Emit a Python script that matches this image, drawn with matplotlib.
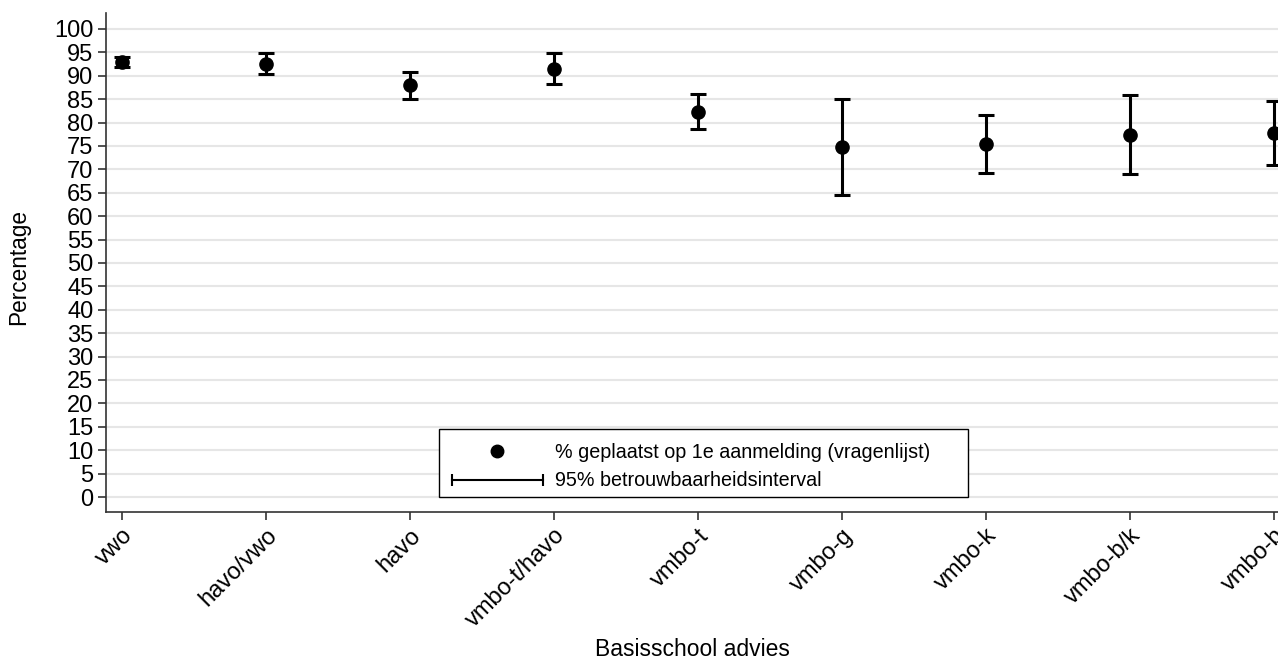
import matplotlib
matplotlib.use("Agg")
import matplotlib.pyplot as plt
from matplotlib.lines import Line2D
from matplotlib.patches import Rectangle
from matplotlib.legend_handler import HandlerLine2D

plt.rcParams['font.family'] = ['Liberation Sans', 'DejaVu Sans']

categories = ["vwo", "havo/vwo", "havo", "vmbo-t/havo", "vmbo-t", "vmbo-g",
              "vmbo-k", "vmbo-b/k", "vmbo-b"]
pct = [92.9, 92.5, 88.0, 91.5, 82.3, 74.7, 75.4, 77.4, 77.7]
ci_low = [91.9, 90.4, 85.1, 88.2, 78.6, 64.5, 69.2, 69.0, 71.0]
ci_high = [94.0, 94.8, 90.8, 94.8, 86.0, 85.0, 81.6, 85.8, 84.6]
yticks = list(range(0, 101, 5))

W, H = 1278, 662
fig = plt.figure(figsize=(W/100, H/100), dpi=100)
ax = fig.add_axes([106/W, 1-512/H, 1-106/W, (512-13)/H])

x = list(range(len(categories)))
yerr = [[p - l for p, l in zip(pct, ci_low)], [h - p for p, h in zip(pct, ci_high)]]
ax.errorbar(x, pct, yerr=yerr, fmt='none', ecolor='black', elinewidth=2.2,
            capsize=6, capthick=2.2, zorder=3)
ax.plot(x, pct, 'o', color='black', markersize=9.5, zorder=4)

ax.set_xlim(-0.111, 8.03)
ax.set_ylim(-3.2, 103.4)
ax.set_yticks(yticks)
ax.set_yticklabels([str(t) for t in yticks], fontsize=17)
ax.set_xticks(x)
ax.set_xticklabels(categories, rotation=45, ha='right', va='top', fontsize=17,
                   rotation_mode='anchor')
ax.grid(axis='y', color='#e6e6e6', linewidth=1.5, zorder=0)
ax.set_axisbelow(True)
for s in ['top', 'right']:
    ax.spines[s].set_visible(False)
for s in ['left', 'bottom']:
    ax.spines[s].set_color('#333333')
    ax.spines[s].set_linewidth(1.2)
ax.tick_params(axis='both', length=6, width=1.2, color='#333333', pad=3)

ax.set_ylabel("Percentage", fontsize=16.3)
ax.yaxis.set_label_coords(-0.0648, 0.49)
fig.text(692/W, 1-650/H, "Basisschool advies", ha='center', va='center', fontsize=16.5)

# legend box
box = Rectangle((439/W, 1-497/H), (968-439)/W, (497-429)/H, transform=fig.transFigure,
                facecolor='white', edgecolor='black', linewidth=1.0, zorder=4.5,
                clip_on=False)
ax.add_artist(box)

h1 = Line2D([], [], marker='o', color='black', linestyle='none', markersize=9)
h2 = Line2D([], [], color='black', linewidth=1.5, marker='|', markersize=9,
            markeredgewidth=1.5)
leg = ax.legend([h1, h2], ["% geplaatst op 1e aanmelding (vragenlijst)",
                           "95% betrouwbaarheidsinterval"],
                handler_map={h2: HandlerLine2D(numpoints=2)},
                loc='center left', bbox_to_anchor=((446-106)/1172, (512-466.5)/499),
                fontsize=14.2, frameon=False,
                handlelength=5.2, handletextpad=0.35, borderaxespad=0,
                borderpad=0, labelspacing=0.5)
leg.set_zorder(5)

fig.savefig("out.png", dpi=100)
